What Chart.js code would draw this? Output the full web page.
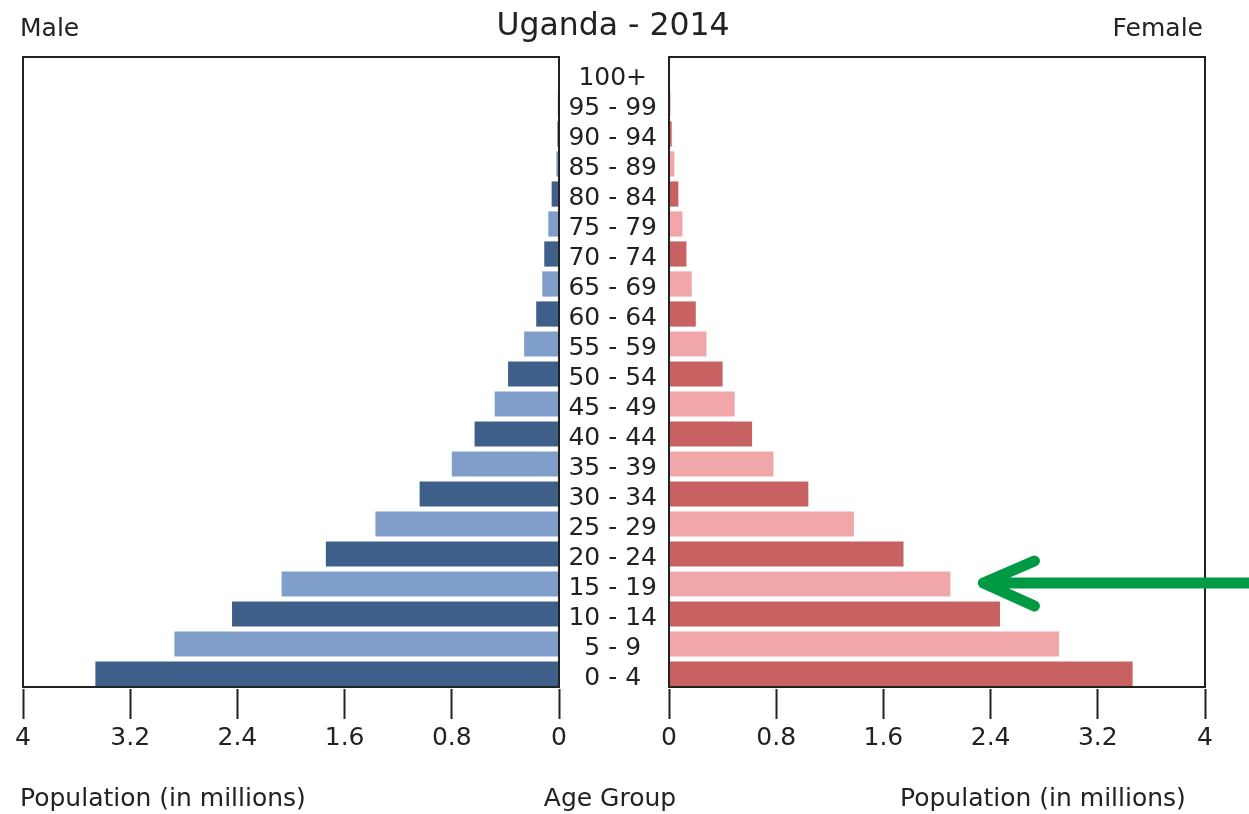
<!DOCTYPE html>
<html><head><meta charset="utf-8">
<script src="https://cdn.jsdelivr.net/npm/chart.js@4.4.1/dist/chart.umd.min.js"></script>
<style>
html,body{margin:0;padding:0;background:#fff;}
#wrap{position:relative;width:1249px;height:814px;overflow:hidden;font-family:'DejaVu Sans',sans-serif;color:#222;}
canvas{position:absolute;left:0;top:0;}
.t{position:absolute;white-space:nowrap;line-height:1;font-size:25px;}
</style></head><body>
<div id="wrap">
<canvas id="male" width="1249" height="814"></canvas>
<canvas id="female" width="1249" height="814"></canvas>
<div class="t" style="left:0;width:1226px;text-align:center;top:9px;font-size:31.5px">Uganda - 2014</div>
<div class="t" style="left:20px;top:15px">Male</div>
<div class="t" style="right:46px;top:15px">Female</div>
<div class="t" style="left:20px;top:785px">Population (in millions)</div>
<div class="t" style="left:0;width:1220px;text-align:center;top:785px">Age Group</div>
<div class="t" style="left:900px;top:785px">Population (in millions)</div>
</div>
<script>
const ageGroups = ['0 - 4','5 - 9','10 - 14','15 - 19','20 - 24','25 - 29','30 - 34','35 - 39','40 - 44','45 - 49','50 - 54','55 - 59','60 - 64','65 - 69','70 - 74','75 - 79','80 - 84','85 - 89','90 - 94','95 - 99','100+'];
const maleValues = [3.46, 2.87, 2.44, 2.07, 1.74, 1.37, 1.04, 0.80, 0.63, 0.48, 0.38, 0.26, 0.17, 0.125, 0.11, 0.08, 0.055, 0.02, 0.012, 0.009, 0.007];
const femaleValues = [3.46, 2.91, 2.47, 2.10, 1.75, 1.38, 1.04, 0.78, 0.62, 0.49, 0.40, 0.28, 0.20, 0.17, 0.13, 0.10, 0.07, 0.04, 0.02, 0.012, 0.008];
const tickValues = [0, 0.8, 1.6, 2.4, 3.2, 4];
const maleColors = ['#3e5f8a', '#7f9fca'];
const femaleColors = ['#c86262', '#f1a6a9'];
const highlightIndex = 3; // 15 - 19

Chart.defaults.font.family = "'DejaVu Sans', sans-serif";
Chart.defaults.color = '#222';

const W = 1249, H = 814, AREA_TOP = 59, AREA_BOTTOM = 689;

function xScale(reverse) {
  return {
    type: 'linear', min: 0, max: 4, reverse: reverse,
    afterBuildTicks: s => { s.ticks = tickValues.map(v => ({ value: v })); },
    afterFit: s => { s.height = H - AREA_BOTTOM; },
    grid: { display: true, drawOnChartArea: false, drawTicks: true, tickLength: 30, tickWidth: 2, tickColor: '#222' },
    border: { display: false },
    ticks: { font: { size: 25 }, color: '#222', padding: 4, maxRotation: 0, autoSkip: false,
      callback: v => String(+Number(v).toFixed(1)) }
  };
}

const framePlugin = {
  id: 'frame',
  afterDatasetsDraw(chart) {
    const { ctx, chartArea: a } = chart;
    ctx.save();
    ctx.strokeStyle = '#222';
    ctx.lineWidth = 2;
    ctx.strokeRect(a.left, a.top - 2, a.right - a.left, a.bottom - a.top);
    ctx.restore();
  }
};

const arrowPlugin = {
  id: 'arrow',
  afterDraw(chart) {
    const xs = chart.scales.x, ys = chart.scales.y, ctx = chart.ctx;
    const tipX = xs.getPixelForValue(femaleValues[highlightIndex]) + 33;
    const tipY = ys.getPixelForValue(highlightIndex) - 1;
    ctx.save();
    ctx.strokeStyle = '#009a44';
    ctx.lineWidth = 11;
    ctx.lineCap = 'round';
    ctx.lineJoin = 'round';
    ctx.beginPath();
    ctx.moveTo(W + 20, tipY);
    ctx.lineTo(tipX, tipY);
    ctx.moveTo(tipX + 51, tipY - 22);
    ctx.lineTo(tipX, tipY);
    ctx.lineTo(tipX + 51, tipY + 23);
    ctx.stroke();
    ctx.restore();
  }
};

function alt(colors) { return ageGroups.map((_, i) => colors[i % 2]); }

new Chart(document.getElementById('male'), {
  type: 'bar',
  data: { labels: ageGroups, datasets: [{ data: maleValues, backgroundColor: alt(maleColors), borderWidth: 0, barPercentage: 0.84, categoryPercentage: 1 }] },
  options: {
    responsive: false, animation: false, indexAxis: 'y',
    layout: { padding: { left: 23, right: W - 559, top: AREA_TOP, bottom: 0 } },
    plugins: { legend: { display: false }, tooltip: { enabled: false }, title: { display: false } },
    scales: {
      x: xScale(true),
      y: { type: 'category', reverse: true, display: false }
    }
  },
  plugins: [framePlugin]
});

new Chart(document.getElementById('female'), {
  type: 'bar',
  data: { labels: ageGroups, datasets: [{ data: femaleValues, backgroundColor: alt(femaleColors), borderWidth: 0, barPercentage: 0.84, categoryPercentage: 1 }] },
  options: {
    responsive: false, animation: false, indexAxis: 'y',
    layout: { padding: { left: 559, right: W - 1205, top: AREA_TOP, bottom: 0 } },
    plugins: { legend: { display: false }, tooltip: { enabled: false }, title: { display: false } },
    scales: {
      x: xScale(false),
      y: { type: 'category', reverse: true, position: 'left',
        afterFit: s => { s.width = 110; },
        grid: { display: false, drawTicks: false },
        border: { display: false },
        ticks: { font: { size: 25 }, color: '#222', crossAlign: 'center', padding: 12, labelOffset: 4, autoSkip: false }
      }
    }
  },
  plugins: [framePlugin, arrowPlugin]
});
</script>
</body></html>
